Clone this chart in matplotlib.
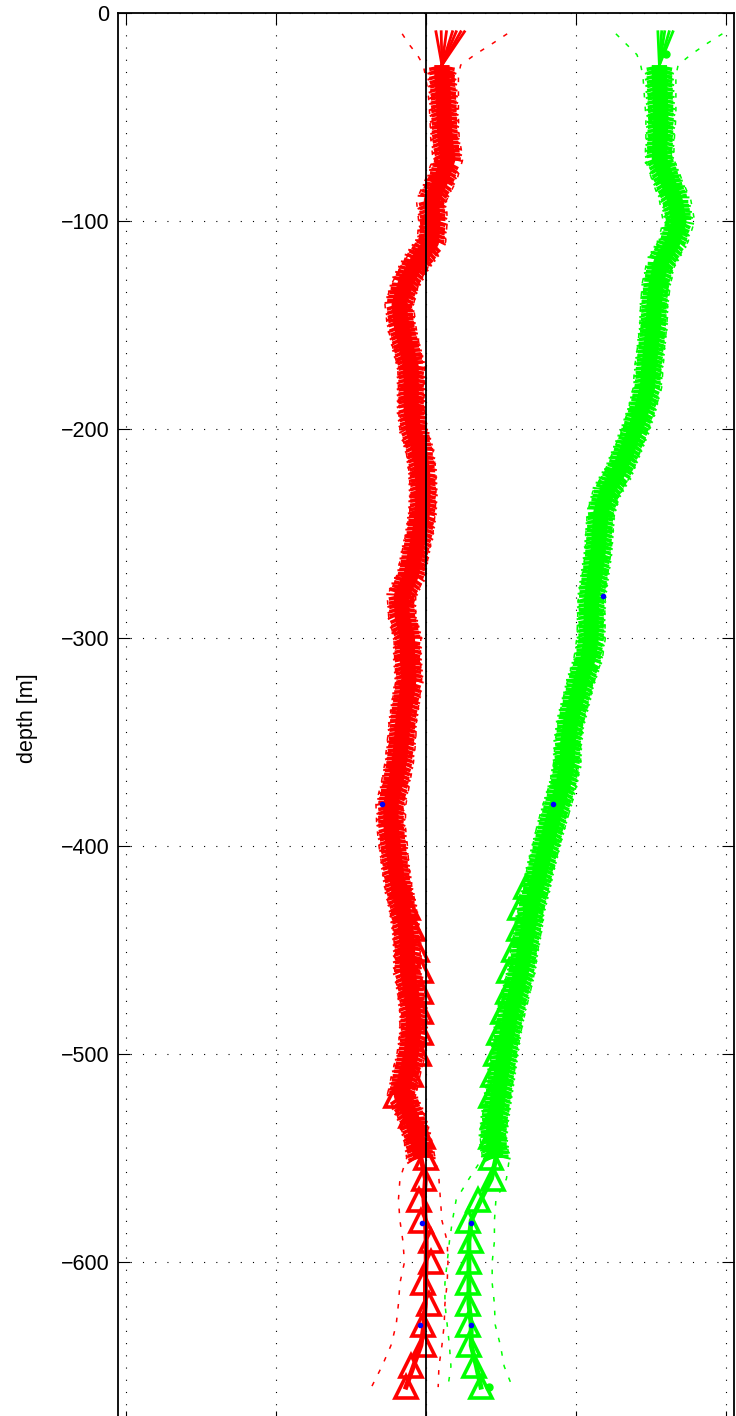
import numpy as np
import matplotlib
matplotlib.use("Agg")
import matplotlib.pyplot as plt
from matplotlib import patheffects as pe

plt.rcParams['font.family'] = ['Liberation Sans', 'DejaVu Sans']

# ---- data (velocity [m/s] vs depth [m]) ----
z_band = [-25] + list(range(-30, -551, -10))
u_band = [0.021, 0.021, 0.023, 0.024, 0.025, 0.029, 0.020, 0.007, 0.009, 0.007,
          -0.013, -0.028, -0.036, -0.033, -0.027, -0.020, -0.020, -0.020, -0.017, -0.009,
          -0.005, -0.004, -0.005, -0.009, -0.015, -0.020, -0.033, -0.032, -0.025, -0.025,
          -0.023, -0.027, -0.031, -0.033, -0.036, -0.041, -0.047, -0.047, -0.044, -0.041,
          -0.037, -0.031, -0.027, -0.025, -0.025, -0.020, -0.017, -0.017, -0.020, -0.027,
          -0.033, -0.020, -0.012, -0.007]
v_band = [0.311, 0.311, 0.312, 0.313, 0.312, 0.311, 0.321, 0.332, 0.337, 0.329,
          0.313, 0.307, 0.304, 0.303, 0.300, 0.297, 0.295, 0.288, 0.279, 0.268,
          0.257, 0.241, 0.233, 0.231, 0.229, 0.225, 0.221, 0.220, 0.220, 0.216,
          0.207, 0.200, 0.193, 0.189, 0.188, 0.183, 0.175, 0.167, 0.160, 0.153,
          0.147, 0.140, 0.136, 0.131, 0.127, 0.120, 0.113, 0.108, 0.104, 0.100,
          0.096, 0.092, 0.089, 0.093]
u_err = [0.025, 0.022, 0.020, 0.019, 0.019, 0.020, 0.021, 0.020, 0.019, 0.019,
         0.018, 0.018, 0.019, 0.019, 0.018, 0.018, 0.017, 0.017, 0.018, 0.018,
         0.018, 0.017, 0.017, 0.018, 0.018, 0.019, 0.019, 0.018, 0.018, 0.017,
         0.017, 0.018, 0.018, 0.019, 0.019, 0.019, 0.020, 0.019, 0.019, 0.018,
         0.018, 0.018, 0.017, 0.017, 0.017, 0.018, 0.018, 0.018, 0.019, 0.019,
         0.019, 0.018, 0.018, 0.019]
v_err = [0.025, 0.022, 0.021, 0.020, 0.019, 0.019, 0.020, 0.021, 0.021, 0.020,
         0.019, 0.019, 0.018, 0.018, 0.018, 0.019, 0.019, 0.018, 0.018, 0.018,
         0.019, 0.019, 0.018, 0.018, 0.017, 0.017, 0.018, 0.018, 0.019, 0.019,
         0.018, 0.018, 0.017, 0.017, 0.018, 0.018, 0.019, 0.019, 0.018, 0.018,
         0.017, 0.017, 0.018, 0.018, 0.018, 0.019, 0.019, 0.018, 0.017, 0.017,
         0.017, 0.017, 0.017, 0.018]

# near-surface spread
z_fan = [-25, -9]
u_fan_top = [0.013, 0.020, 0.027, 0.035, 0.040, 0.046, 0.051]
v_fan_top = [0.309, 0.314, 0.318, 0.324, 0.329]
z_top_err = [-10, -15, -20]
u_top_lo = [-0.032, -0.023, -0.012]
u_top_hi = [0.108, 0.087, 0.065]
v_top_lo = [0.253, 0.267, 0.281]
v_top_hi = [0.395, 0.373, 0.353]

# deep part
z_deep = list(range(-550, -661, -10))
u_deep = [-0.007, -0.001, -0.003, -0.001, 0.000, 0.000, -0.001, -0.001, -0.003, -0.007, -0.017, -0.027]
v_deep = [0.093, 0.087, 0.073, 0.060, 0.057, 0.057, 0.057, 0.057, 0.060, 0.060, 0.067, 0.073]
u_bot_lo = [-0.029, -0.035, -0.037, -0.035, -0.031, -0.029, -0.035, -0.037, -0.040, -0.047, -0.059, -0.073]
u_bot_hi = [0.009, 0.017, 0.019, 0.021, 0.028, 0.029, 0.028, 0.025, 0.024, 0.021, 0.017, 0.016]
v_bot_lo = [0.073, 0.057, 0.040, 0.035, 0.031, 0.028, 0.025, 0.025, 0.028, 0.031, 0.033, 0.029]
v_bot_hi = [0.109, 0.107, 0.093, 0.091, 0.091, 0.088, 0.088, 0.091, 0.092, 0.099, 0.104, 0.115]

# bottom track
z_bt = list(range(-420, -661, -10))
u_bt = [-0.033, -0.024, -0.017, -0.012, -0.007, -0.007, -0.007, -0.007, -0.009, -0.020,
        -0.040, -0.020, -0.004, 0.000, -0.003, -0.009, -0.007, 0.007, 0.007, -0.004,
        0.004, -0.004, -0.003, -0.020, -0.027]
v_bt = [0.133, 0.125, 0.124, 0.117, 0.111, 0.109, 0.103, 0.097, 0.093, 0.089,
        0.087, 0.089, 0.087, 0.087, 0.089, 0.069, 0.056, 0.060, 0.057, 0.056,
        0.056, 0.056, 0.057, 0.064, 0.073]

# single points
blue_x = [-0.059, 0.236, 0.169, -0.005, 0.060, -0.008, 0.060]
blue_z = [-380, -280, -380, -581, -581, -630, -630]
green_dot_x = [0.320, 0.084]
green_dot_z = [-19.5, -660]

yticks = [0, -100, -200, -300, -400, -500, -600]
xticks = [-0.4, -0.2, 0.0, 0.2, 0.4]

RED = (1, 0, 0)
GREEN = (0, 1, 0)

fig = plt.figure(figsize=(7.36, 14.16), dpi=100)
ax = fig.add_axes([118 / 736, 1 - 1422.5 / 1416, 616 / 736, 1409.5 / 1416])

band_fx = [pe.TickedStroke(spacing=3.0, angle=80, length=3.1, linewidth=2.6),
           pe.TickedStroke(spacing=3.0, angle=-80, length=3.1, linewidth=2.6),
           pe.TickedStroke(spacing=4.3, angle=68, length=2.6, linewidth=1.4),
           pe.TickedStroke(spacing=4.3, angle=-68, length=2.6, linewidth=1.4),
           pe.Normal()]


def profile(center, err, fan_top, top_lo, top_hi, deep, bot_lo, bot_hi, bt, col):
    center = np.asarray(center)
    err = np.asarray(err)
    # thick ensemble band
    ax.plot(center, z_band, color=col, lw=11, solid_capstyle='butt',
            solid_joinstyle='round', path_effects=band_fx, zorder=3)
    # surface spread
    for xt in fan_top:
        ax.plot([center[0], xt], z_fan, color=col, lw=2.0, zorder=3)
    # deep profile
    ax.plot(deep, z_deep, color=col, lw=3.5, zorder=3)
    # error envelope
    lo = list(top_lo) + list(center - err) + list(bot_lo[1:])
    hi = list(top_hi) + list(center + err) + list(bot_hi[1:])
    zz = z_top_err + z_band + z_deep[1:]
    for b in (lo, hi):
        ax.plot(b, zz, color=col, lw=1.1, ls=(0, (3, 6)), zorder=2)
    # bottom track
    ax.plot(bt, z_bt, ls='none', marker='^', ms=16, mfc='none', mec=col,
            mew=2.6, zorder=4)


profile(u_band, u_err, u_fan_top, u_top_lo, u_top_hi, u_deep, u_bot_lo, u_bot_hi, u_bt, RED)
profile(v_band, v_err, v_fan_top, v_top_lo, v_top_hi, v_deep, v_bot_lo, v_bot_hi, v_bt, GREEN)

ax.plot(green_dot_x, green_dot_z, ls='none', marker='o', ms=5, color=GREEN, zorder=4)
ax.plot(blue_x, blue_z, ls='none', marker='o', ms=3, color='b', zorder=5)
ax.axvline(0, color='k', lw=1.3, zorder=6)

ax.set_xlim(-0.411, 0.4105)
ax.set_ylim(-677, 0)
ax.set_xticks(xticks)
ax.set_xticklabels([])
ax.set_yticks(yticks)
ax.set_yticklabels(['0'] + ['\u2212%d' % -t for t in yticks[1:]])
ax.tick_params(direction='in', length=8.5, width=0.8, top=True, right=True,
               labelsize=15.5, pad=6)
ax.grid(True, color='k', lw=0.8, ls=(0, (1, 10)))
ax.set_axisbelow(True)
for s in ax.spines.values():
    s.set_linewidth(1.3)
ax.set_ylabel('depth [m]', fontsize=15.5)
ax.yaxis.set_label_coords(-0.13, 0.5)

fig.savefig('out.png', dpi=100)
